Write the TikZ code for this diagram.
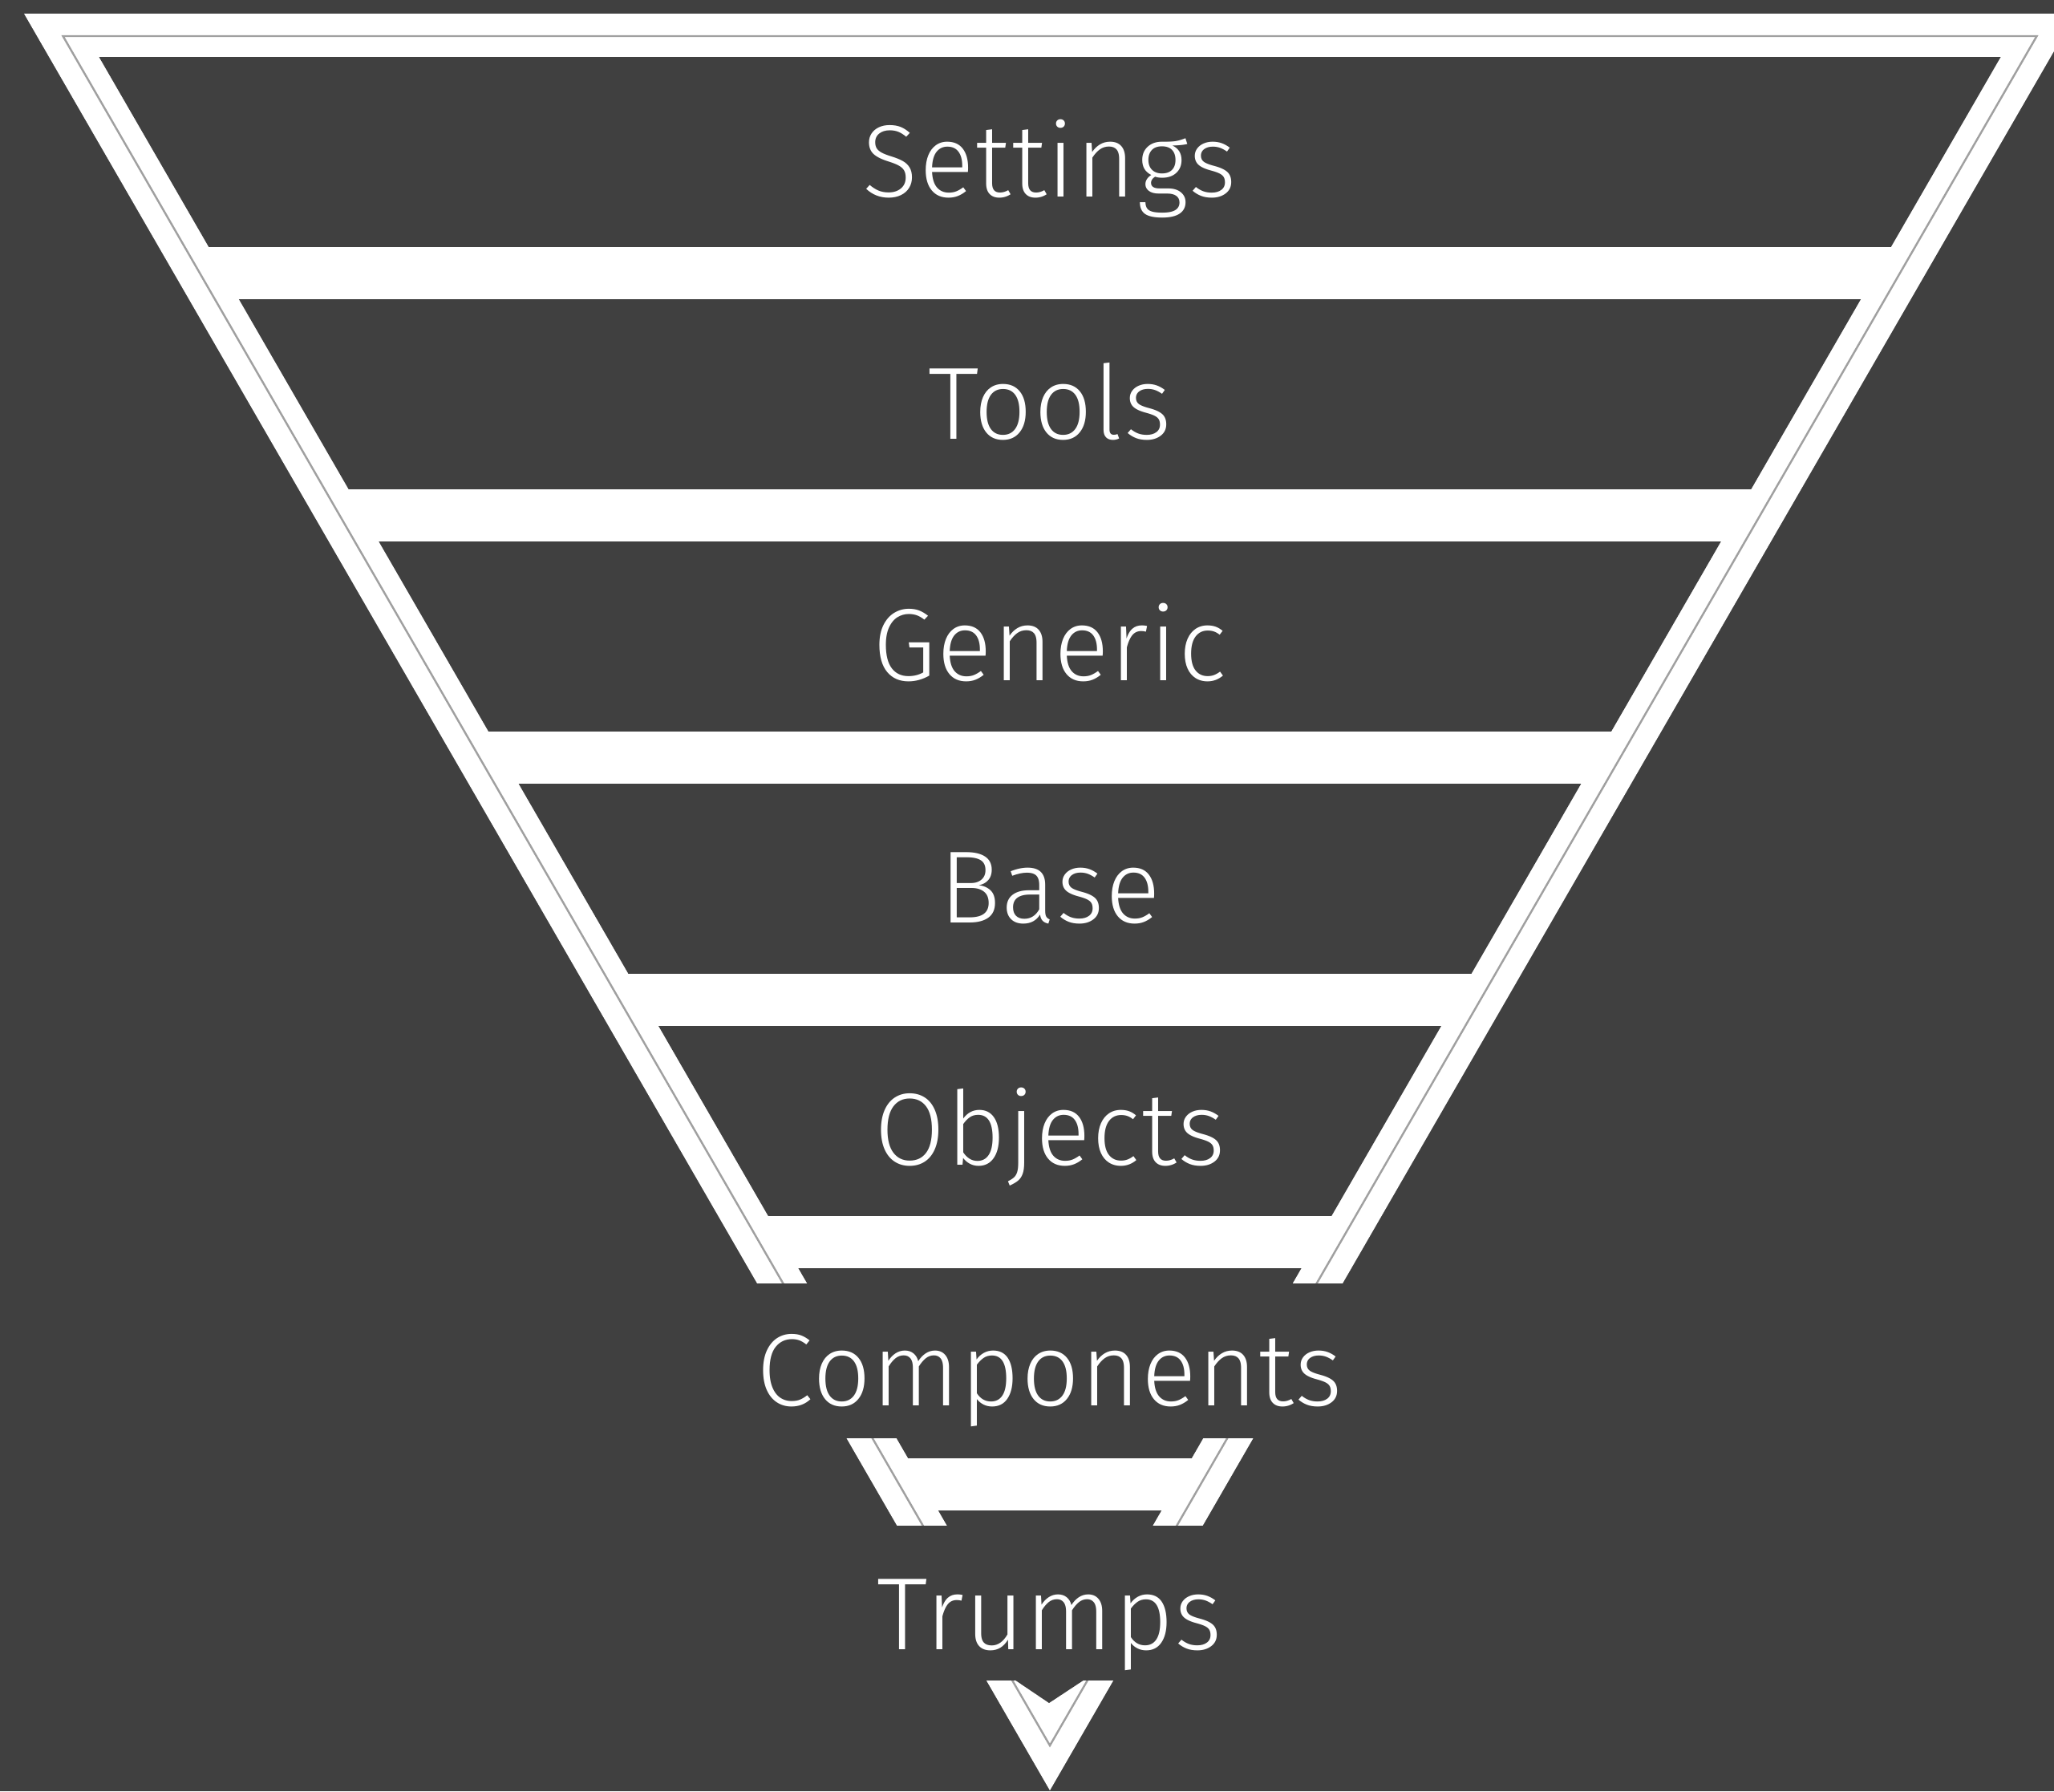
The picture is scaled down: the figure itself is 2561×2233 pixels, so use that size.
\documentclass[tikz,border=0pt]{standalone}
\usepackage{fontspec}
\setmainfont{Fira Sans}[UprightFont={* Light},LetterSpace=1]
\definecolor{bg}{HTML}{404040}
\definecolor{edgegray}{HTML}{A0A0A0}
\begin{document}
\begin{tikzpicture}[x=0.01cm,y=-0.01cm,
  layer/.style={font=\fontsize{36.4}{40}\selectfont, text=white, anchor=base, inner sep=0pt}]
\useasboundingbox (0,0) rectangle (2561,2233);
\fill[bg] (0,0) rectangle (2561,2233);
\begin{scope}
\clip (0,0) rectangle (2561,2233);
\fill[white] (30,17) -- (2588,17) -- (1309,2232) -- cycle;
\draw[edgegray, line width=0.7pt] (78.5,45) -- (2539.5,45) -- (1309,2176) -- cycle;
\begin{scope}
\clip (123.5,71) -- (2494.5,71) -- (1309,2124) -- cycle;
\foreach \k in {0,...,6} \fill[bg] (0,{71+302*\k}) rectangle (2561,{308+302*\k});
\end{scope}
\fill[bg] (0,1600) rectangle (2561,1793);
\fill[bg] (0,1902) rectangle (2561,2095);
\fill[bg] (1265,2094) -- (1352,2094) -- (1308,2123) -- cycle;
\end{scope}
\node[layer] (settings) at (1309,245) {Settings};
\node[layer] (tools) at (1309,547) {Tools};
\node[layer] (generic) at (1309,848) {Generic};
\node[layer] (base) at (1309,1150) {Base};
\node[layer] (objects) at (1309,1452) {Objects};
\node[layer] (components) at (1309,1752) {Components};
\node[layer] (trumps) at (1309,2056) {Trumps};
\end{tikzpicture}
\end{document}
